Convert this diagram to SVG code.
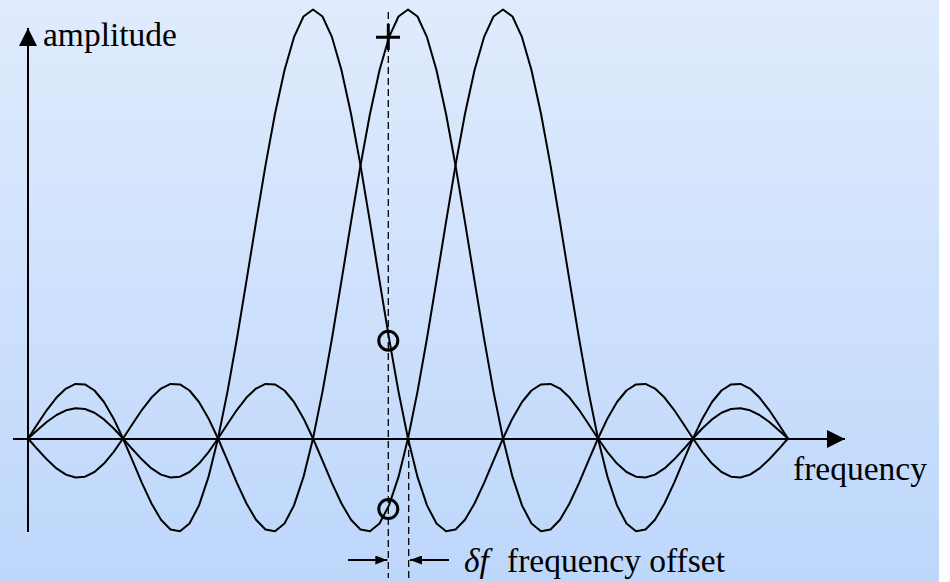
<svg xmlns="http://www.w3.org/2000/svg" width="950" height="582" viewBox="0 0 950 582">
  <defs>
    <linearGradient id="bg" x1="0" y1="0" x2="0" y2="1">
      <stop offset="0" stop-color="#e0ebfd"/>
      <stop offset="1" stop-color="#bdd7fb"/>
    </linearGradient>
    <marker id="axhead" viewBox="0 0 18 18" refX="18" refY="9" markerWidth="18" markerHeight="18" markerUnits="userSpaceOnUse" orient="auto">
      <path d="M0,0 L18,9 L0,18 Z" fill="#000"/>
    </marker>
    <marker id="smallhead" viewBox="0 0 12 9" refX="12" refY="4.5" markerWidth="12" markerHeight="9" markerUnits="userSpaceOnUse" orient="auto">
      <path d="M0,0 L12,4.5 L0,9 Z" fill="#000"/>
    </marker>
  </defs>
  <style>
    .axis { stroke: #000; stroke-width: 2; fill: none; }
    .curve { stroke: #000; stroke-width: 2; fill: none; stroke-linejoin: round; }
    .dash { stroke: #000; stroke-width: 1.3; fill: none; stroke-dasharray: 7 4; }
    .mark { stroke: #000; stroke-width: 3; fill: none; }
    .lbl { font-family: "Liberation Serif", "Times New Roman", serif; font-size: 33.5px; fill: #000; }
    .arr { stroke: #000; stroke-width: 1.8; fill: none; }
  </style>
  <rect x="0" y="0" width="950" height="582" fill="#ffffff"/>
  <rect x="0" y="0" width="939" height="582" fill="url(#bg)"/>

  <g id="axes">
    <line class="axis" x1="28" y1="532" x2="28" y2="28" marker-end="url(#axhead)"/>
    <line class="axis" x1="13" y1="439" x2="845" y2="439" marker-end="url(#axhead)"/>
  </g>

  <g id="curves">
    <polyline id="curve-1" class="curve" points="28,438.5 37.5,424 47,409.8 56.5,397.6 66,388.6 75.5,383.9 85,384.4 94.5,390.5 104,402 113.5,418.4 123,438.5 132.5,460.7 142,483.1 151.5,503.5 161,519.7 170.5,529.5 180,531.3 189.5,523.5 199,505.4 208.5,476.9 218,438.5 227.5,391.6 237,338.2 246.5,280.7 256,222.1 265.5,165.4 275,113.8 284.5,70.3 294,37.2 303.5,16.5 313,9.5 322.5,16.5 332,37.2 341.5,70.3 351,113.8 360.5,165.4 370,222.1 379.5,280.7 389,338.2 398.5,391.6 408,438.5 417.5,476.9 427,505.4 436.5,523.5 446,531.3 455.5,529.5 465,519.7 474.5,503.5 484,483.1 493.5,460.7 503,438.5 512.5,418.4 522,402 531.5,390.5 541,384.4 550.5,383.9 560,388.6 569.5,397.6 579,409.8 588.5,424 598,438.5 607.5,452.1 617,463.6 626.5,472 636,476.7 645.5,477.5 655,474.6 664.5,468.4 674,459.6 683.5,449.3 693,438.5 702.5,428.2 712,419.4 721.5,412.8 731,409 740.5,408.2 750,410.3 759.5,415 769,421.8 778.5,429.9 788,438.5"/>
    <polyline id="curve-2" class="curve" points="28,438.5 37.5,449.3 47,459.6 56.5,468.4 66,474.6 75.5,477.5 85,476.7 94.5,472 104,463.6 113.5,452.1 123,438.5 132.5,424 142,409.8 151.5,397.6 161,388.6 170.5,383.9 180,384.4 189.5,390.5 199,402 208.5,418.4 218,438.5 227.5,460.7 237,483.1 246.5,503.5 256,519.7 265.5,529.5 275,531.3 284.5,523.5 294,505.4 303.5,476.9 313,438.5 322.5,391.6 332,338.2 341.5,280.7 351,222.1 360.5,165.4 370,113.8 379.5,70.3 389,37.2 398.5,16.5 408,9.5 417.5,16.5 427,37.2 436.5,70.3 446,113.8 455.5,165.4 465,222.1 474.5,280.7 484,338.2 493.5,391.6 503,438.5 512.5,476.9 522,505.4 531.5,523.5 541,531.3 550.5,529.5 560,519.7 569.5,503.5 579,483.1 588.5,460.7 598,438.5 607.5,418.4 617,402 626.5,390.5 636,384.4 645.5,383.9 655,388.6 664.5,397.6 674,409.8 683.5,424 693,438.5 702.5,452.1 712,463.6 721.5,472 731,476.7 740.5,477.5 750,474.6 759.5,468.4 769,459.6 778.5,449.3 788,438.5"/>
    <polyline id="curve-3" class="curve" points="28,438.5 37.5,429.9 47,421.8 56.5,415 66,410.3 75.5,408.2 85,409 94.5,412.8 104,419.4 113.5,428.2 123,438.5 132.5,449.3 142,459.6 151.5,468.4 161,474.6 170.5,477.5 180,476.7 189.5,472 199,463.6 208.5,452.1 218,438.5 227.5,424 237,409.8 246.5,397.6 256,388.6 265.5,383.9 275,384.4 284.5,390.5 294,402 303.5,418.4 313,438.5 322.5,460.7 332,483.1 341.5,503.5 351,519.7 360.5,529.5 370,531.3 379.5,523.5 389,505.4 398.5,476.9 408,438.5 417.5,391.6 427,338.2 436.5,280.7 446,222.1 455.5,165.4 465,113.8 474.5,70.3 484,37.2 493.5,16.5 503,9.5 512.5,16.5 522,37.2 531.5,70.3 541,113.8 550.5,165.4 560,222.1 569.5,280.7 579,338.2 588.5,391.6 598,438.5 607.5,476.9 617,505.4 626.5,523.5 636,531.3 645.5,529.5 655,519.7 664.5,503.5 674,483.1 683.5,460.7 693,438.5 702.5,418.4 712,402 721.5,390.5 731,384.4 740.5,383.9 750,388.6 759.5,397.6 769,409.8 778.5,424 788,438.5"/>
  </g>

  <g id="offset-lines">
    <line class="dash" x1="388.3" y1="12" x2="388.3" y2="578"/>
    <line class="dash" x1="408.7" y1="439" x2="408.7" y2="578"/>
  </g>

  <g id="markers">
    <path class="mark" d="M376,37.3 H400 M388.3,24 V50" stroke-width="3.5"/>
    <circle class="mark" cx="388.3" cy="340.7" r="9.5"/>
    <circle class="mark" cx="388.3" cy="509" r="9.5"/>
  </g>

  <g id="offset-arrows">
    <line class="arr" x1="348" y1="560" x2="387.3" y2="560" marker-end="url(#smallhead)"/>
    <line class="arr" x1="449" y1="560" x2="410" y2="560" marker-end="url(#smallhead)"/>
  </g>

  <g id="labels">
    <text class="lbl" x="43" y="46">amplitude</text>
    <text class="lbl" x="793" y="480">frequency</text>
    <text class="lbl" x="464" y="572" font-style="italic">δf</text>
    <text class="lbl" x="507" y="572">frequency offset</text>
  </g>
</svg>
